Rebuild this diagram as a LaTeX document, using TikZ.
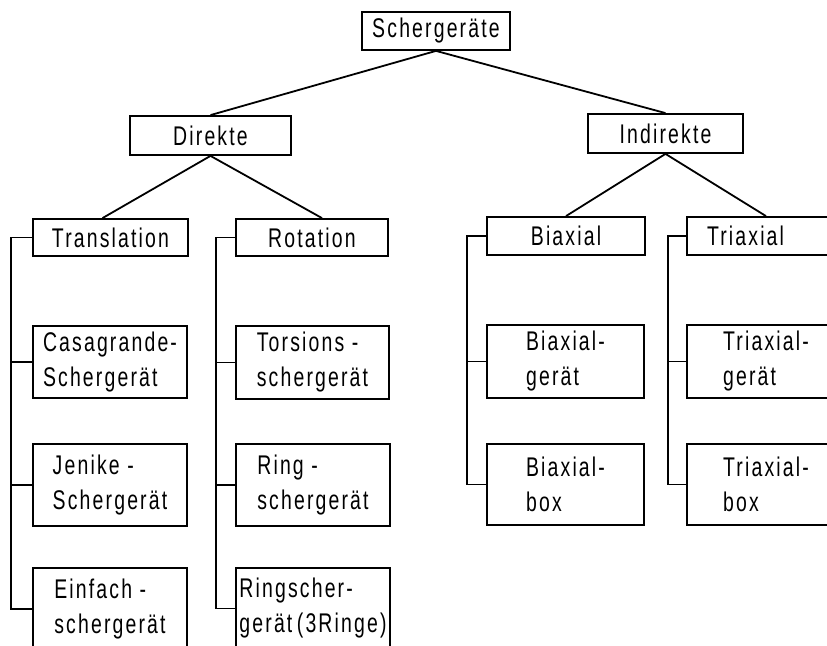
\documentclass[tikz,border=0pt]{standalone}
\usepackage{fontspec}
\setmainfont{Liberation Sans}[FakeStretch=0.72, LetterSpace=8]

\begin{document}
\begin{tikzpicture}[x=0.5pt, y=-0.5pt, line width=0.9pt,
	box/.style={draw, inner sep=0pt, font=\fontsize{13.5}{17.5}\selectfont},
	item/.style={box, align=left}]
		\useasboundingbox (0,0) rectangle (827,646);
		\node[box, minimum width=74pt, minimum height=19pt] (top) at (436,31) {Schergeräte};
		\node[box, minimum width=80.5pt, minimum height=19.5pt] (dir) at (210.5,135.5) {Direkte};
		\node[box, minimum width=77.5pt, minimum height=19.5pt] (indir) at (665.5,133.5) {Indirekte};
		\node[box, minimum width=77.5pt, minimum height=18.5pt] (trans) at (110.5,237.5) {Translation};
		\node[box, minimum width=76pt, minimum height=18.5pt] (rot) at (312,237.5) {Rotation};
		\node[box, minimum width=79pt, minimum height=19pt] (biax) at (566,236) {Biaxial};
		\node[box, minimum width=79pt, minimum height=19pt, text width=59pt, align=left] (triax) at (766,236) {Triaxial};
		\node[item, minimum width=77pt, minimum height=36pt] (casa) at (110,362) {Casagrande-\\Schergerät};
		\node[item, minimum width=77pt, minimum height=41pt] (jenike) at (110,485) {Jenike -\\Schergerät};
		\node[item, minimum width=77pt, minimum height=41pt] (einfach) at (110,609) {Einfach -\\schergerät};
		\node[item, minimum width=76.5pt, minimum height=36.5pt] (torsion) at (312.5,362.5) {Torsions -\\schergerät};
		\node[item, minimum width=77pt, minimum height=41pt] (ring) at (313,485) {Ring -\\schergerät};
		\node[item, minimum width=77pt, minimum height=40.5pt] (ring3) at (313,608.5) {Ringscher-\\gerät\,(3Ringe)};
		\node[item, minimum width=78.5pt, minimum height=36.5pt] (biaxger) at (565.5,361.5) {Biaxial-\\gerät};
		\node[item, minimum width=78.5pt, minimum height=40.5pt] (biaxbox) at (565.5,484.5) {Biaxial-\\box};
		\node[item, minimum width=79pt, minimum height=36.5pt] (triaxger) at (766,361.5) {Triaxial-\\gerät};
		\node[item, minimum width=79pt, minimum height=40.5pt] (triaxbox) at (766,484.5) {Triaxial-\\box};
		\draw (top.south) -- (dir.north);
		\draw (top.south) -- (indir.north);
		\draw (dir.south) -- ([xshift=-4pt]trans.north);
		\draw (dir.south) -- ([xshift=5pt]rot.north);
		\draw (indir.south) -- (biax.north);
		\draw (indir.south) -- (triax.north);
		\draw (trans.west) -- ++(-21,0) coordinate (tl) |- (einfach.west);
		\draw (tl |- casa.west) -- (casa.west);
		\draw (tl |- jenike.west) -- (jenike.west);
		\draw (rot.west) -- ++(-19,0) coordinate (rl) |- (ring3.west);
		\draw (rl |- torsion.west) -- (torsion.west);
		\draw (rl |- ring.west) -- (ring.west);
		\draw (biax.west) -- ++(-19,0) coordinate (bl) |- (biaxbox.west);
		\draw (bl |- biaxger.west) -- (biaxger.west);
		\draw (triax.west) -- ++(-18,0) coordinate (xl) |- (triaxbox.west);
		\draw (xl |- triaxger.west) -- (triaxger.west);
	\end{tikzpicture}
\end{document}
